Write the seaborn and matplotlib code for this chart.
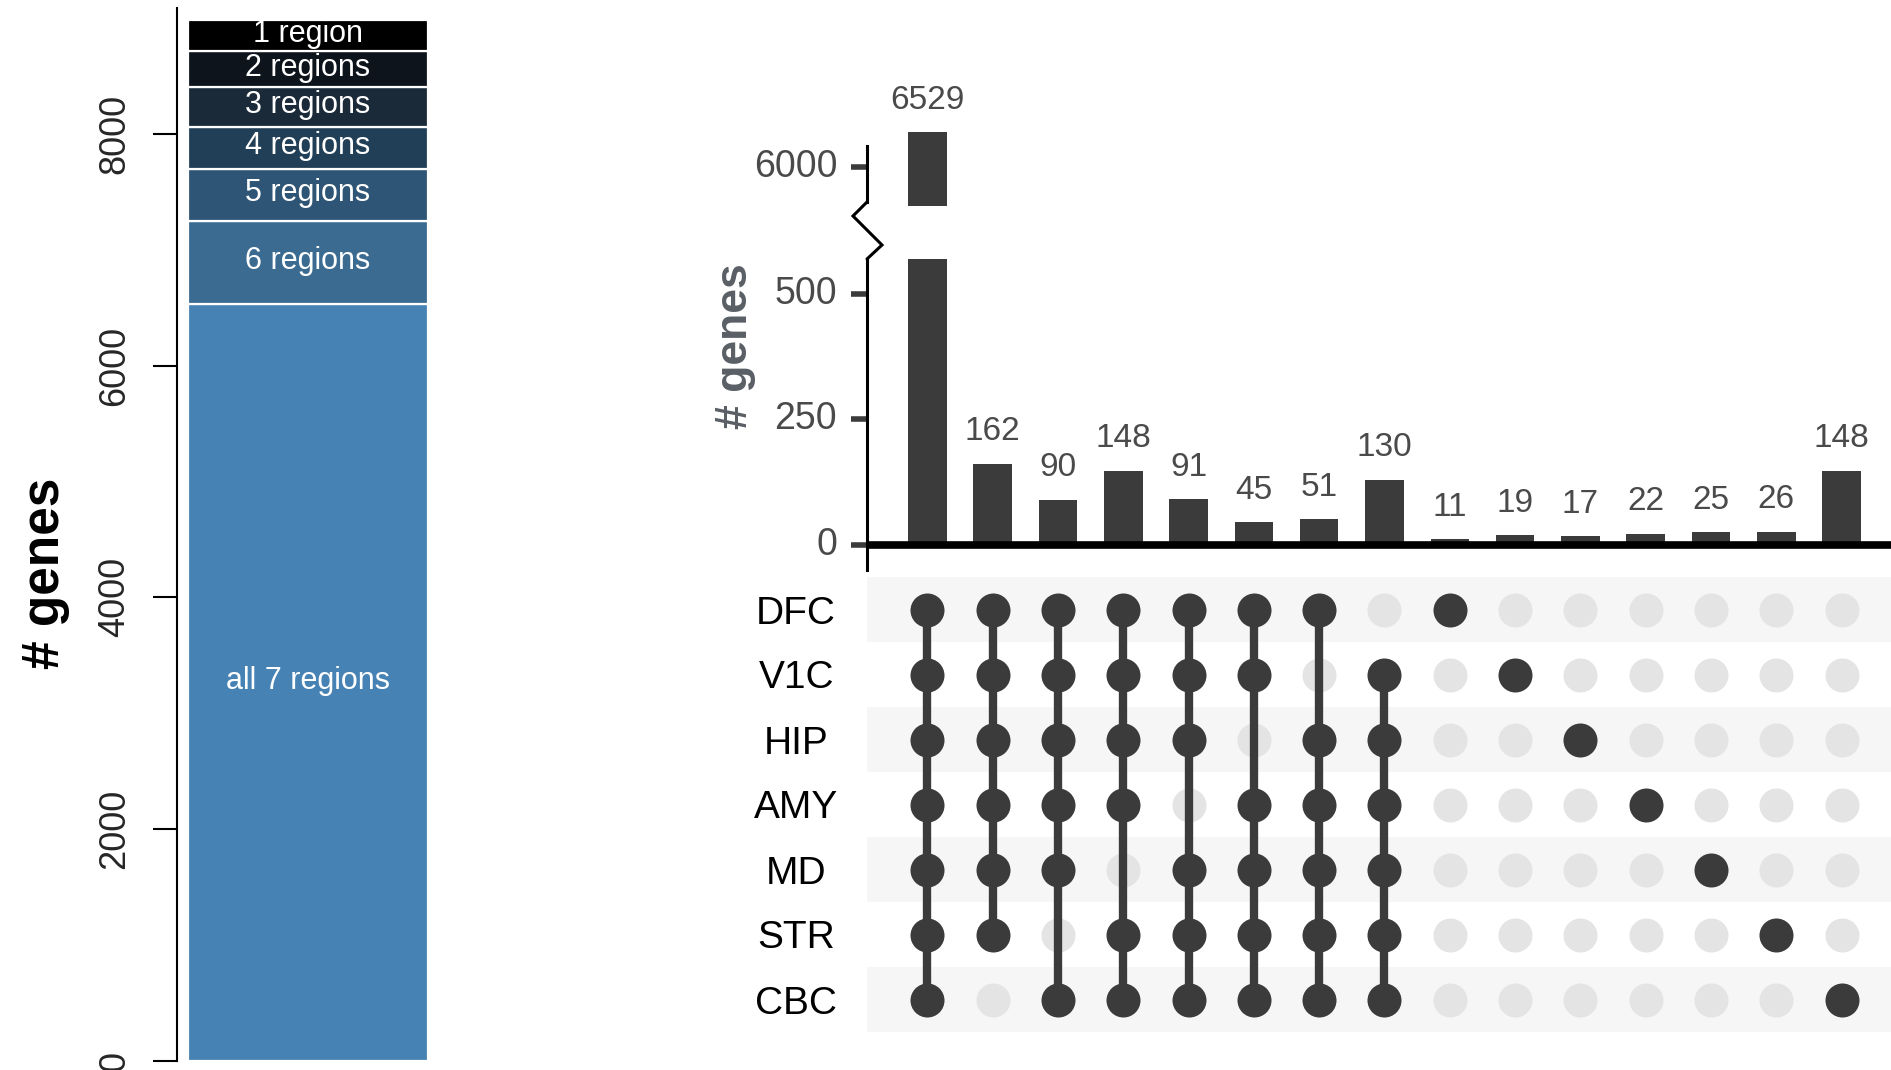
import numpy as np
import pandas as pd
import matplotlib
matplotlib.use("Agg")
import matplotlib.pyplot as plt
from matplotlib.lines import Line2D
import seaborn as sns

# ---------------- data ----------------
shared_labels = ["all 7 regions", "6 regions", "5 regions", "4 regions",
                 "3 regions", "2 regions", "1 region"]
shared_counts = [6529, 717, 451, 363, 342, 311, 268]
left_ticks = [0, 2000, 4000, 6000, 8000]

regions = ["DFC", "V1C", "HIP", "AMY", "MD", "STR", "CBC"]
intersection_sizes = [6529, 162, 90, 148, 91, 45, 51, 130, 11, 19, 17, 22, 25, 26, 148]
membership = [
    ["DFC", "V1C", "HIP", "AMY", "MD", "STR", "CBC"],
    ["DFC", "V1C", "HIP", "AMY", "MD", "STR"],
    ["DFC", "V1C", "HIP", "AMY", "MD", "CBC"],
    ["DFC", "V1C", "HIP", "AMY", "STR", "CBC"],
    ["DFC", "V1C", "HIP", "MD", "STR", "CBC"],
    ["DFC", "V1C", "AMY", "MD", "STR", "CBC"],
    ["DFC", "HIP", "AMY", "MD", "STR", "CBC"],
    ["V1C", "HIP", "AMY", "MD", "STR", "CBC"],
    ["DFC"], ["V1C"], ["HIP"], ["AMY"], ["MD"], ["STR"], ["CBC"],
]
lower_ticks = [0, 250, 500]
upper_ticks = [6000]

# ---------------- style ----------------
sns.set_style("white")
plt.rcParams["font.family"] = ["Liberation Sans", "DejaVu Sans"]

seg_colors = ["#4682b4", "#3c6b92", "#2e5575", "#213f56", "#1a2a38", "#0d141c", "#000000"]
DARK = "#3b3b3b"
LIGHT = "#e4e4e4"
STRIPE = "#f6f6f6"
TICK_TXT = "#4a4a4a"

W, H = 1891, 1070
fig = plt.figure(figsize=(W / 100, H / 100), dpi=100)


def rect(x0, y0, x1, y1):
    """pixel box (top-left origin) -> figure fraction rect"""
    return [x0 / W, 1 - y1 / H, (x1 - x0) / W, (y1 - y0) / H]


# ---------------- stacked bar: genes by number of regions ----------------
ax_l = fig.add_axes(rect(177, 8, 438.7, 1060.7))
bottoms = np.concatenate([[0], np.cumsum(shared_counts)[:-1]])
for lab, cnt, bot, col in zip(shared_labels, shared_counts, bottoms, seg_colors):
    sns.barplot(x=["genes"], y=[cnt], bottom=bot, color=col, saturation=1,
                width=0.916, edgecolor="white", linewidth=1.6, ax=ax_l)
    ax_l.text(0, bot + cnt / 2 + 15, lab, ha="center", va="center",
              color="white", fontsize=22)
ax_l.set_xlim(-0.5, 0.5)
ax_l.set_ylim(0, 9087)
ax_l.set_xlabel("")
ax_l.set_ylabel("")
for s in ("top", "right", "bottom"):
    ax_l.spines[s].set_visible(False)
ax_l.spines["left"].set_linewidth(1.5)
ax_l.spines["left"].set_color("black")
ax_l.set_yticks(left_ticks)
ax_l.tick_params(axis="y", length=17, width=1.5, pad=15, labelsize=26,
                 labelrotation=90, left=True, color="black")
for t in ax_l.get_yticklabels():
    t.set_va("center")
ax_l.tick_params(axis="x", bottom=False, labelbottom=False)
fig.text(45 / W, 1 - 573 / H, "# genes", rotation=90, fontsize=37,
         fontweight="bold", ha="center", va="center", color="black")

# ---------------- UpSet: intersection size bars (broken axis) ----------------
xlim = (-0.925, 14.757)
df_int = pd.DataFrame({"combo": range(len(intersection_sizes)),
                       "genes": intersection_sizes})

ax_up = fig.add_axes(rect(867, 100, 1891, 206))
ax_lo = fig.add_axes(rect(867, 259, 1891, 570))
for ax in (ax_up, ax_lo):
    sns.barplot(data=df_int, x="combo", y="genes", color=DARK, saturation=1,
                width=0.59, linewidth=0, ax=ax)
    ax.set_xlim(*xlim)
    ax.set_xlabel("")
    ax.set_ylabel("")
    for s in ("top", "right", "bottom"):
        ax.spines[s].set_visible(False)
    ax.spines["left"].set_linewidth(2.2)
    ax.spines["left"].set_color("black")
    ax.tick_params(axis="x", bottom=False, labelbottom=False)
    ax.tick_params(axis="y", left=True, length=11.5, width=4, color=DARK,
                   pad=10, labelsize=27, labelcolor=TICK_TXT)
    ax.patch.set_alpha(0)

ax_lo.set_ylim(-49.8, 569)
ax_lo.set_yticks(lower_ticks)
ax_lo.axhline(0, color="black", lw=5.5, zorder=5)
ax_lo.bar_label(ax_lo.containers[0],
                labels=[""] + [str(v) for v in intersection_sizes[1:]],
                padding=12, fontsize=24, color=TICK_TXT)

ax_up.set_ylim(5403, 7025)
ax_up.set_yticks(upper_ticks)
ax_up.spines["left"].set_bounds(5464, 6321)
ax_up.bar_label(ax_up.containers[0],
                labels=[str(intersection_sizes[0])] + [""] * (len(intersection_sizes) - 1),
                padding=12, fontsize=24, color=TICK_TXT)

for ax in (ax_up, ax_lo):
    for t in ax.get_yticklabels():
        t.set_va("center")

# axis break marker between the two bar panels
zx = np.array([867, 853, 882, 867]) / W
zy = 1 - np.array([202, 216, 245, 259]) / H
fig.add_artist(Line2D(zx, zy, color="black", lw=2.2, transform=fig.transFigure,
                      solid_joinstyle="miter"))

fig.text(736 / W, 1 - 346 / H, "# genes", rotation=90, fontsize=32,
         fontweight="bold", ha="center", va="center", color="#5a5f66")

# ---------------- UpSet: membership matrix ----------------
recs = []
for c, members in enumerate(membership):
    for r, reg in enumerate(regions):
        recs.append({"combo": c, "region": reg, "row": r, "member": reg in members})
df_m = pd.DataFrame(recs)

ax_m = fig.add_axes(rect(867, 577, 1891, 1032))
for r in range(0, len(regions), 2):
    ax_m.axhspan(r - 0.5, r + 0.5, color=STRIPE, zorder=0, lw=0)

sns.scatterplot(data=df_m[~df_m["member"]], x="combo", y="row", color=LIGHT,
                s=600, linewidth=0, ax=ax_m, zorder=2, legend=False)
for c, grp in df_m[df_m["member"]].groupby("combo"):
    if len(grp) > 1:
        ax_m.vlines(c, grp["row"].min(), grp["row"].max(), color=DARK, lw=6, zorder=3)
sns.scatterplot(data=df_m[df_m["member"]], x="combo", y="row", color=DARK,
                s=600, linewidth=0, ax=ax_m, zorder=4, legend=False)

ax_m.set_xlim(*xlim)
ax_m.set_ylim(len(regions) - 0.5, -0.5)
ax_m.set_xlabel("")
ax_m.set_ylabel("")
for s in ax_m.spines.values():
    s.set_visible(False)
ax_m.set_xticks([])
ax_m.set_yticks(range(len(regions)), labels=regions)
ax_m.tick_params(axis="y", length=0, pad=51, labelsize=28, labelcolor="black")
for t in ax_m.get_yticklabels():
    t.set_ha("center")

fig.savefig("out.png", dpi=100, facecolor="white")
